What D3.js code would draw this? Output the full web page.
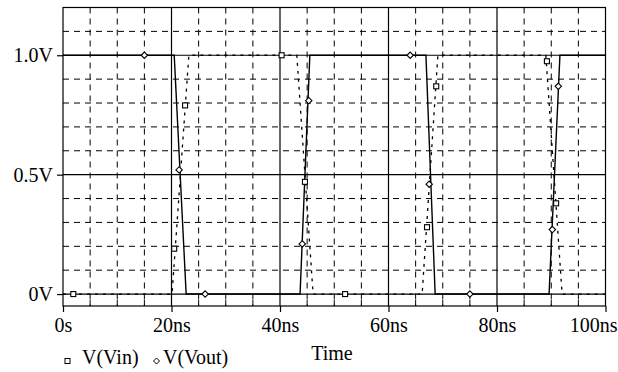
<!DOCTYPE html>
<html>
<head>
<meta charset="utf-8">
<script src="https://cdn.jsdelivr.net/npm/d3@7"></script>
<style>
  html, body { margin: 0; padding: 0; background: #fff; }
  svg { display: block; }
  text { font-family: "Liberation Serif", "Times New Roman", serif; fill: #000; }
</style>
</head>
<body>
<div id="chart"></div>
<script>
// values (time in ns, voltage in V)
const vinPoints = [[0, 0], [20.1, 0], [23.2, 1.0], [43.1, 1.0], [46.1, 0], [66.2, 0], [69.1, 1.0], [89.0, 1.0], [92.0, 0], [100, 0]];
const voutPoints = [[0, 1.0], [20.5, 1.0], [22.7, 0], [43.7, 0], [45.5, 1.0], [66.9, 1.0], [68.6, 0], [89.6, 0], [91.6, 1.0], [100, 1.0]];
const vinMarkers = [[1.9, 0], [20.5, 0.19], [22.5, 0.79], [40.3, 1.0], [44.6, 0.47], [52.0, 0], [67.1, 0.28], [68.8, 0.87], [89.2, 0.975], [90.9, 0.38]];
const voutMarkers = [[15, 1.0], [21.4, 0.52], [26.2, 0], [44.1, 0.21], [45.3, 0.81], [64, 1.0], [67.5, 0.46], [75, 0], [90.2, 0.27], [91.3, 0.87]];

const xTicks = [0, 20, 40, 60, 80, 100];
const xTickLabels = ['0s', '20ns', '40ns', '60ns', '80ns', '100ns'];
const yTicks = [0, 0.5, 1.0];
const yTickLabels = ['0V', '0.5V', '1.0V'];
const seriesNames = ['V(Vin)', 'V(Vout)'];
const xTitle = 'Time';

const width = 618, height = 372;
const plot = { left: 63, right: 605.5, top: 7.5, bottom: 306 };

const svg = d3.select('#chart').append('svg')
  .attr('width', width)
  .attr('height', height);

const x = d3.scaleLinear().domain([0, 100]).range([plot.left, plot.right]);
const y = d3.scaleLinear().domain([-0.05, 1.2]).range([plot.bottom, plot.top]);

// grid
const minorX = d3.range(5, 100, 5).filter(v => v % 20 !== 0);
const majorX = [20, 40, 60, 80];
const minorY = d3.range(1, 12).map(v => v / 10).filter(v => Math.abs(v - 0.5) > 1e-6 && Math.abs(v - 1) > 1e-6);
const majorY = [0, 0.5, 1.0];

const grid = svg.append('g');
grid.selectAll('.vminor').data(minorX).enter().append('line')
  .attr('x1', d => x(d)).attr('x2', d => x(d))
  .attr('y1', plot.top).attr('y2', plot.bottom)
  .attr('stroke', '#000').attr('stroke-width', 1)
  .attr('stroke-dasharray', '6,5');
grid.selectAll('.hminor').data(minorY).enter().append('line')
  .attr('x1', plot.left).attr('x2', plot.right)
  .attr('y1', d => y(d)).attr('y2', d => y(d))
  .attr('stroke', '#000').attr('stroke-width', 1)
  .attr('stroke-dasharray', '6,5');
grid.selectAll('.vmajor').data(majorX).enter().append('line')
  .attr('x1', d => x(d)).attr('x2', d => x(d))
  .attr('y1', plot.top).attr('y2', plot.bottom)
  .attr('stroke', '#000').attr('stroke-width', 1.2);
grid.selectAll('.hmajor').data(majorY).enter().append('line')
  .attr('x1', plot.left).attr('x2', plot.right)
  .attr('y1', d => y(d)).attr('y2', d => y(d))
  .attr('stroke', '#000').attr('stroke-width', 1.2);

// minor ticks pointing inward along the bottom
grid.selectAll('.mtick').data(minorX).enter().append('line')
  .attr('x1', d => x(d)).attr('x2', d => x(d))
  .attr('y1', plot.bottom - 6).attr('y2', plot.bottom)
  .attr('stroke', '#000').attr('stroke-width', 1);

// frame
svg.append('rect')
  .attr('x', plot.left).attr('y', plot.top)
  .attr('width', plot.right - plot.left).attr('height', plot.bottom - plot.top)
  .attr('fill', 'none').attr('stroke', '#000').attr('stroke-width', 1.2);

// axes
const xAxis = svg.append('g')
  .attr('transform', `translate(0,${plot.bottom})`)
  .call(d3.axisBottom(x).tickValues(xTicks).tickSize(6).tickPadding(6)
    .tickFormat((d, i) => xTickLabels[i]));
const yAxis = svg.append('g')
  .attr('transform', `translate(${plot.left},0)`)
  .call(d3.axisLeft(y).tickValues(yTicks).tickSize(6).tickPadding(4)
    .tickFormat((d, i) => yTickLabels[i]));

[xAxis, yAxis].forEach(a => {
  a.select('.domain').remove();
  a.selectAll('line').attr('stroke', '#000').attr('stroke-width', 1.2);
  a.selectAll('text')
    .style('font-family', '"Liberation Serif", "Times New Roman", serif')
    .style('font-size', '20px')
    .attr('fill', '#000');
});

// last label is pushed inside the page edge, like the original
xAxis.selectAll('.tick text')
  .filter(d => d === 100)
  .attr('text-anchor', 'end')
  .attr('x', width - 1 - x(100));

// series lines
const line = d3.line().x(d => x(d[0])).y(d => y(d[1]));

svg.append('path')
  .datum(vinPoints)
  .attr('fill', 'none')
  .attr('stroke', '#000')
  .attr('stroke-width', 1.3)
  .attr('stroke-dasharray', '3,5')
  .attr('d', line);

svg.append('path')
  .datum(voutPoints)
  .attr('fill', 'none')
  .attr('stroke', '#000')
  .attr('stroke-width', 1.4)
  .attr('d', line);

// markers
const sq = 5, dm = 3.2;
svg.selectAll('.vin-mark').data(vinMarkers).enter().append('rect')
  .attr('x', d => x(d[0]) - sq / 2)
  .attr('y', d => y(d[1]) - sq / 2)
  .attr('width', sq).attr('height', sq)
  .attr('fill', '#fff').attr('stroke', '#000').attr('stroke-width', 1.1);

const diamond = (cx, cy) => `M${cx},${cy - dm}L${cx + dm},${cy}L${cx},${cy + dm}L${cx - dm},${cy}Z`;
svg.selectAll('.vout-mark').data(voutMarkers).enter().append('path')
  .attr('d', d => diamond(x(d[0]), y(d[1])))
  .attr('fill', '#fff').attr('stroke', '#000').attr('stroke-width', 1.1);

// x title
svg.append('text')
  .attr('x', 332).attr('y', 360)
  .attr('text-anchor', 'middle')
  .style('font-size', '20px')
  .text(xTitle);

// legend
const lg = svg.append('g');
lg.append('rect')
  .attr('x', 65).attr('y', 358.5)
  .attr('width', 5).attr('height', 5)
  .attr('fill', '#fff').attr('stroke', '#000').attr('stroke-width', 1);
lg.append('text')
  .attr('x', 82).attr('y', 364)
  .style('font-size', '20px')
  .text(seriesNames[0]);
lg.append('path')
  .attr('d', `M156.5,358L159.5,361L156.5,364L153.5,361Z`)
  .attr('fill', '#fff').attr('stroke', '#000').attr('stroke-width', 1);
lg.append('text')
  .attr('x', 163).attr('y', 364)
  .style('font-size', '20px')
  .text(seriesNames[1]);
</script>
</body>
</html>
